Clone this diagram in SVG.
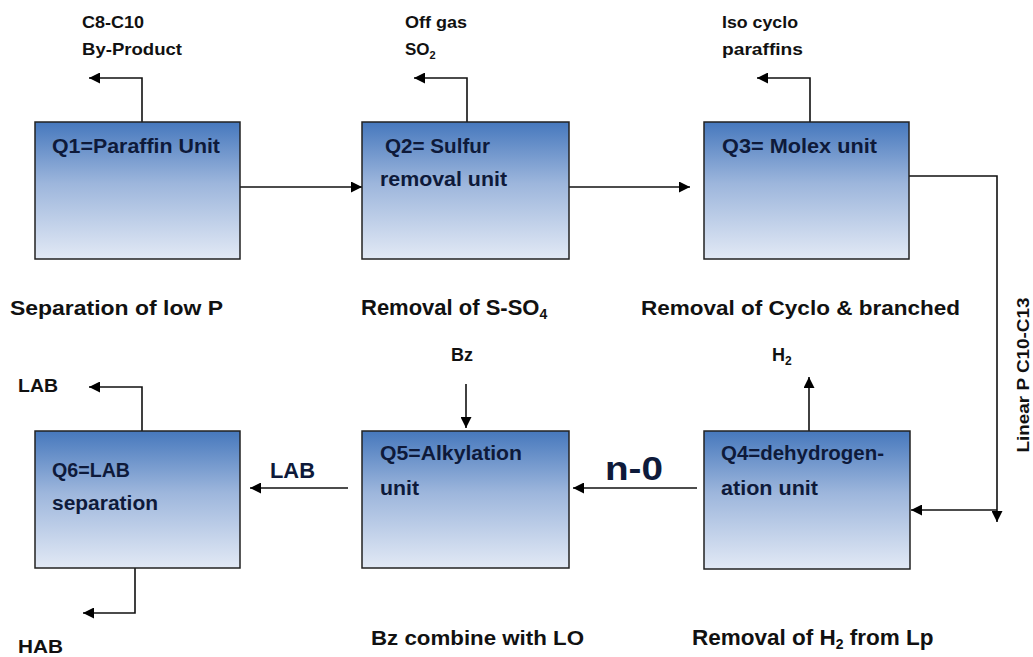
<svg xmlns="http://www.w3.org/2000/svg" width="1033" height="657" viewBox="0 0 1033 657">
  <defs>
    <linearGradient id="unitFill" x1="0" y1="0" x2="0" y2="1">
      <stop offset="0" stop-color="#4678bd"/>
      <stop offset="0.45" stop-color="#9db6dc"/>
      <stop offset="1" stop-color="#e2e9f5"/>
    </linearGradient>
    <marker id="arrow" viewBox="0 0 10 10" refX="10" refY="5" markerWidth="11" markerHeight="11" markerUnits="userSpaceOnUse" orient="auto">
      <path d="M0,0 L10,5 L0,10 z" fill="#000"/>
    </marker>
  </defs>
  <style>
    .unit { fill: url(#unitFill); stroke: #222; stroke-width: 1.5; }
    .flow { fill: none; stroke: #111; stroke-width: 1.6; marker-end: url(#arrow); }
    text { font-family: "Liberation Sans", Arial, sans-serif; font-weight: bold; }
    .nt { fill: #0e1a3a; font-size: 20px; }
    .lbl { fill: #111; font-size: 17px; }
    .cap { fill: #111; font-size: 21px; }
  </style>
  <rect width="1033" height="657" fill="#fff"/>

  <!-- connectors -->
  <g id="connectors">
    <polyline class="flow" points="142,122 142,78 89,78"/>
    <polyline class="flow" points="467,122 467,78 414,78"/>
    <polyline class="flow" points="810,122 810,78 757,78"/>
    <line class="flow" x1="240" y1="187" x2="362" y2="187"/>
    <line class="flow" x1="569" y1="187" x2="690" y2="187"/>
    <polyline class="flow" points="909,176 997,176 997,522"/>
    <line class="flow" x1="997" y1="510" x2="911" y2="510"/>
    <line class="flow" x1="809" y1="431" x2="809" y2="377"/>
    <line class="flow" x1="697" y1="488" x2="573" y2="488"/>
    <line class="flow" x1="466" y1="384" x2="466" y2="428"/>
    <line class="flow" x1="348" y1="488" x2="250" y2="488"/>
    <polyline class="flow" points="142,431 142,387 89,387"/>
    <polyline class="flow" points="135,568 135,613 83,613"/>
  </g>

  <!-- units -->
  <g id="q1">
    <rect class="unit" x="35" y="122" width="205" height="137"/>
    <text class="nt" x="52" y="153" textLength="168" lengthAdjust="spacingAndGlyphs">Q1=Paraffin Unit</text>
  </g>
  <g id="q2">
    <rect class="unit" x="362" y="122" width="207" height="137"/>
    <text class="nt" x="385" y="153" textLength="105" lengthAdjust="spacingAndGlyphs">Q2= Sulfur</text>
    <text class="nt" x="380" y="186" textLength="127" lengthAdjust="spacingAndGlyphs">removal unit</text>
  </g>
  <g id="q3">
    <rect class="unit" x="704" y="122" width="205" height="137"/>
    <text class="nt" x="722" y="153" textLength="155" lengthAdjust="spacingAndGlyphs">Q3= Molex unit</text>
  </g>
  <g id="q4">
    <rect class="unit" x="704" y="431" width="206" height="138"/>
    <text class="nt" x="721" y="460" textLength="163" lengthAdjust="spacingAndGlyphs">Q4=dehydrogen-</text>
    <text class="nt" x="721" y="495" textLength="97" lengthAdjust="spacingAndGlyphs">ation unit</text>
  </g>
  <g id="q5">
    <rect class="unit" x="362" y="431" width="207" height="137"/>
    <text class="nt" x="380" y="460" textLength="142" lengthAdjust="spacingAndGlyphs">Q5=Alkylation</text>
    <text class="nt" x="380" y="495" textLength="39" lengthAdjust="spacingAndGlyphs">unit</text>
  </g>
  <g id="q6">
    <rect class="unit" x="35" y="431" width="205" height="137"/>
    <text class="nt" x="52" y="477" textLength="78" lengthAdjust="spacingAndGlyphs">Q6=LAB</text>
    <text class="nt" x="52" y="510" textLength="106" lengthAdjust="spacingAndGlyphs">separation</text>
  </g>

  <!-- stream labels -->
  <g id="labels">
    <text class="lbl" x="82" y="28" textLength="62" lengthAdjust="spacingAndGlyphs">C8-C10</text>
    <text class="lbl" x="82" y="55" textLength="100" lengthAdjust="spacingAndGlyphs">By-Product</text>
    <text class="lbl" x="405" y="28" textLength="62" lengthAdjust="spacingAndGlyphs">Off gas</text>
    <text class="lbl" x="405" y="55">SO<tspan style="font-size:11px" dy="4">2</tspan></text>
    <text class="lbl" x="722" y="28" textLength="76" lengthAdjust="spacingAndGlyphs">Iso cyclo</text>
    <text class="lbl" x="722" y="55" textLength="81" lengthAdjust="spacingAndGlyphs">paraffins</text>
    <text class="lbl" x="772" y="361" style="font-size:18px">H<tspan style="font-size:12px" dy="4">2</tspan></text>
    <text class="lbl" x="462" y="361" text-anchor="middle" style="font-size:18px">Bz</text>
    <text class="lbl" x="18" y="392" style="font-size:19px" textLength="40" lengthAdjust="spacingAndGlyphs">LAB</text>
    <text class="lbl" x="18" y="653" style="font-size:19px" textLength="45" lengthAdjust="spacingAndGlyphs">HAB</text>
    <text x="270" y="478" style="font-size:22px" fill="#0e1a3a" textLength="45" lengthAdjust="spacingAndGlyphs">LAB</text>
    <text x="605" y="480" style="font-size:33px" fill="#0e1a3a" textLength="58" lengthAdjust="spacingAndGlyphs">n-0</text>
    <text class="lbl" transform="translate(1029,375) rotate(-90)" text-anchor="middle" textLength="155" lengthAdjust="spacingAndGlyphs">Linear P  C10-C13</text>

    <text class="cap" x="10" y="315" textLength="213" lengthAdjust="spacingAndGlyphs">Separation of low P</text>
    <text class="cap" x="361" y="315" style="font-size:22px">Removal of S-SO<tspan style="font-size:14px" dy="4">4</tspan></text>
    <text class="cap" x="641" y="315" textLength="319" lengthAdjust="spacingAndGlyphs">Removal of Cyclo &amp; branched</text>
    <text class="cap" x="371" y="645" textLength="213" lengthAdjust="spacingAndGlyphs">Bz combine with LO</text>
    <text class="cap" x="692" y="645" style="font-size:22.5px">Removal of H<tspan style="font-size:14px" dy="4">2</tspan><tspan dy="-4"> from Lp</tspan></text>
  </g>
</svg>
